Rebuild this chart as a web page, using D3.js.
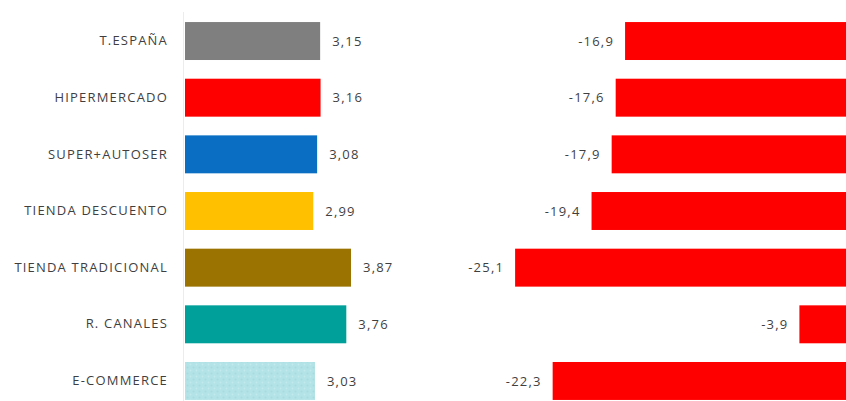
<!DOCTYPE html>
<html><head><meta charset="utf-8">
<script src="https://cdn.jsdelivr.net/npm/d3@7"></script>
<style>html,body{margin:0;padding:0;background:#fff;overflow:hidden}</style>
</head><body><svg id="c" width="846" height="401"></svg>
<script>
const categories = ["T.ESPAÑA","HIPERMERCADO","SUPER+AUTOSER","TIENDA DESCUENTO","TIENDA TRADICIONAL","R. CANALES","E-COMMERCE"];
const leftValues = [3.15,3.16,3.08,2.99,3.87,3.76,3.03];
const rightValues = [-16.9,-17.6,-17.9,-19.4,-25.1,-3.9,-22.3];
const colors = ["#7f7f7f","#ff0000","#0a6fc2","#ffc000","#9a7300","#00a09a","#b3e3e6"];
const rightColor = "#ff0000";

const svg = d3.select("#c");
const defs = svg.append("defs");
const pat = defs.append("pattern").attr("id","dots").attr("width",6).attr("height",6).attr("patternUnits","userSpaceOnUse");
pat.append("rect").attr("width",6).attr("height",6).attr("fill","#b3e3e6");
pat.append("circle").attr("cx",1.5).attr("cy",1.5).attr("r",1).attr("fill","#a6dbe0");
pat.append("circle").attr("cx",4.5).attr("cy",4.5).attr("r",1).attr("fill","#c2eaed");

const y = d3.scaleBand().domain(categories).range([12.7,409.3]).paddingInner(0.33).paddingOuter(0.165);
const xL = d3.scaleLinear().domain([0,4]).range([185,185+4*42.9]);
const xR = d3.scaleLinear().domain([-30,0]).range([851.7-30*13.41,851.7]);
const fmt = (v,d)=>d3.format("."+d+"f")(v).replace(".",",").replace("−","-");
const font = "'Open Sans', sans-serif";
const txt = "#3f3f3f";
const fs = 13, ls = "1.2px";

svg.append("line").attr("x1",183.5).attr("x2",183.5).attr("y1",12).attr("y2",401).attr("stroke","#e6eef2").attr("stroke-width",1);

const ax = svg.append("g").attr("transform","translate(168,0)").call(d3.axisLeft(y).tickSize(0).tickPadding(0));
ax.select(".domain").remove();
ax.selectAll("text").attr("font-family",font).attr("font-size",fs).attr("letter-spacing",ls).attr("fill",txt).attr("x",0);

svg.append("g").selectAll("rect").data(categories).join("rect")
  .attr("x",xL(0)).attr("y",d=>y(d)).attr("height",y.bandwidth())
  .attr("width",(d,i)=>xL(leftValues[i])-xL(0))
  .attr("fill",(d,i)=> i===6 ? "url(#dots)" : colors[i]);

svg.append("g").selectAll("text").data(categories).join("text")
  .attr("x",(d,i)=>xL(leftValues[i])+12).attr("y",d=>y(d)+y.bandwidth()/2)
  .attr("dy","0.35em").attr("font-family",font).attr("font-size",fs).attr("letter-spacing",ls).attr("fill",txt)
  .text((d,i)=>fmt(leftValues[i],2));

svg.append("g").selectAll("rect").data(categories).join("rect")
  .attr("x",(d,i)=>xR(rightValues[i])).attr("y",d=>y(d)).attr("height",y.bandwidth())
  .attr("width",(d,i)=>xR(0)-xR(rightValues[i]))
  .attr("fill",rightColor);

svg.append("g").selectAll("text").data(categories).join("text")
  .attr("x",(d,i)=>xR(rightValues[i])-11).attr("y",d=>y(d)+y.bandwidth()/2)
  .attr("dy","0.35em").attr("text-anchor","end").attr("font-family",font).attr("font-size",fs).attr("letter-spacing",ls).attr("fill",txt)
  .text((d,i)=>fmt(rightValues[i],1));
</script></body></html>
